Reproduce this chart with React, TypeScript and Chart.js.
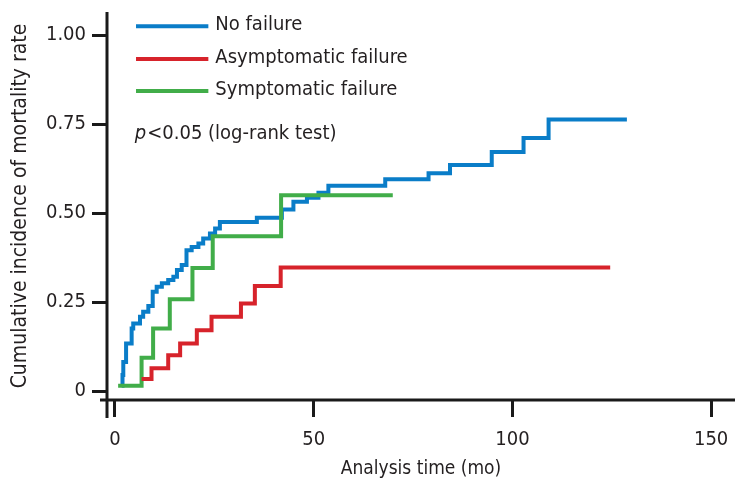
import React, { useEffect, useRef } from "react";
import { Chart, registerables } from "chart.js";

Chart.register(...registerables);

// ---- data ----
const seriesLabels = ["No failure", "Asymptomatic failure", "Symptomatic failure"];
const seriesColors = ["#0a7dc8", "#d7232b", "#41ad49"];

const timesNoFailure = [1.7, 1.9, 2.1, 2.8, 4.2, 4.6, 6.3, 7.1, 8.4, 9.5, 10.5, 11.8, 13.4, 14.7, 15.6, 16.8, 18.0, 19.3, 21.0, 22.2, 23.9, 25.2, 26.4, 35.7, 42.0, 44.9, 48.3, 51.2, 53.7, 68.0, 78.9, 84.3, 94.8, 102.8, 109.1, 128.8];
const valuesNoFailure = [0.015, 0.045, 0.082, 0.134, 0.176, 0.19, 0.209, 0.223, 0.239, 0.279, 0.293, 0.303, 0.312, 0.321, 0.34, 0.354, 0.396, 0.405, 0.415, 0.429, 0.443, 0.457, 0.475, 0.487, 0.51, 0.532, 0.543, 0.557, 0.577, 0.595, 0.612, 0.635, 0.672, 0.711, 0.763, 0.763];

const timesAsymptomatic = [6.7, 9.2, 13.4, 16.4, 20.6, 24.3, 31.7, 35.2, 41.7, 124.6];
const valuesAsymptomatic = [0.034, 0.064, 0.101, 0.134, 0.171, 0.209, 0.246, 0.295, 0.347, 0.347];

const timesSymptomatic = [0.8, 6.7, 9.6, 13.8, 19.5, 24.6, 41.8, 69.9];
const valuesSymptomatic = [0.015, 0.094, 0.176, 0.258, 0.346, 0.435, 0.55, 0.55];

const xTicks = [0, 50, 100, 150];
const yTicks = [0, 0.25, 0.5, 0.75, 1];
const yTickLabels = ["0", "0.25", "0.50", "0.75", "1.00"];
const xTitle = "Analysis time (mo)";
const yTitle = "Cumulative incidence of mortality rate";
const pItalic = "p";
const pRest = "<0.05 (log-rank test)";

const FONT = "'DejaVu Sans Condensed', 'Liberation Sans Narrow', sans-serif";
const TEXT = "#231f20";

function toPoints(xs: number[], ys: number[]) {
  return xs.map((x, i) => ({ x, y: ys[i] }));
}

const overlayPlugin = {
  id: "overlay",
  afterDraw(chart: any) {
    const { ctx, chartArea, scales } = chart;
    const xs = scales.x;
    const ys = scales.y;
    ctx.save();
    // axis lines (Stata-like crossing)
    ctx.strokeStyle = "#1a1a1a";
    ctx.lineWidth = 3;
    ctx.beginPath();
    ctx.moveTo(chartArea.left, chartArea.top);
    ctx.lineTo(chartArea.left, chartArea.bottom + 18);
    ctx.moveTo(chartArea.left - 7, chartArea.bottom);
    ctx.lineTo(chartArea.right, chartArea.bottom);
    ctx.stroke();

    // legend
    const legendX0 = xs.getPixelForValue(5.3);
    const legendX1 = xs.getPixelForValue(23.5);
    const rowVals = [1.025, 0.933, 0.843];
    ctx.font = `20px ${FONT}`;
    ctx.textBaseline = "middle";
    ctx.textAlign = "left";
    seriesLabels.forEach((label, i) => {
      const y = ys.getPixelForValue(rowVals[i]);
      ctx.strokeStyle = seriesColors[i];
      ctx.lineWidth = 4;
      ctx.beginPath();
      ctx.moveTo(legendX0, y);
      ctx.lineTo(legendX1, y);
      ctx.stroke();
      ctx.fillStyle = TEXT;
      ctx.fillText(label, legendX1 + 7, y - 1);
    });

    // p-value note
    const py = ys.getPixelForValue(0.724);
    const px = xs.getPixelForValue(5.0);
    ctx.font = `italic 20px ${FONT}`;
    ctx.fillText(pItalic, px, py);
    const w = ctx.measureText(pItalic).width;
    ctx.font = `20px ${FONT}`;
    ctx.fillText(pRest, px + w + 1, py);
    ctx.restore();
  },
};

export default function App() {
  const canvasRef = useRef<HTMLCanvasElement | null>(null);

  useEffect(() => {
    const canvas = canvasRef.current;
    if (!canvas) return;
    const mk = (i: number, xs: number[], vs: number[]) => ({
      label: seriesLabels[i],
      data: toPoints(xs, vs),
      borderColor: seriesColors[i],
      backgroundColor: seriesColors[i],
      borderWidth: 4,
      pointRadius: 0,
      stepped: "before" as const,
      fill: false,
      tension: 0,
    });
    const chart = new Chart(canvas, {
      type: "line",
      data: {
        datasets: [
          mk(1, timesAsymptomatic, valuesAsymptomatic),
          mk(2, timesSymptomatic, valuesSymptomatic),
          mk(0, timesNoFailure, valuesNoFailure),
        ],
      },
      options: {
        responsive: false,
        animation: false,
        layout: { padding: { top: 12, right: 11, left: 0, bottom: 0 } },
        plugins: { legend: { display: false }, tooltip: { enabled: false } },
        scales: {
          x: {
            type: "linear",
            min: -2,
            max: 156,
            afterBuildTicks: (s: any) => {
              s.ticks = xTicks.map((v) => ({ value: v }));
            },
            afterFit: (s: any) => {
              s.height = 95;
              s.paddingLeft = 0;
              s.paddingRight = 0;
            },
            border: { display: false },
            grid: {
              drawOnChartArea: false,
              drawTicks: true,
              tickLength: 17,
              tickWidth: 3,
              tickColor: "#1a1a1a",
            },
            ticks: {
              color: TEXT,
              font: { family: FONT, size: 20 },
              padding: 11,
              maxRotation: 0,
              autoSkip: false,
            },
            title: {
              display: true,
              text: xTitle,
              color: TEXT,
              font: { family: FONT, size: 19 },
              padding: { top: 0, bottom: 15 },
            },
          },
          y: {
            type: "linear",
            min: -0.025,
            max: 1.065,
            afterBuildTicks: (s: any) => {
              s.ticks = yTicks.map((v) => ({ value: v }));
            },
            afterFit: (s: any) => {
              s.width = 107;
              s.paddingTop = 0;
              s.paddingBottom = 0;
            },
            border: { display: false },
            grid: {
              drawOnChartArea: false,
              drawTicks: true,
              tickLength: 15,
              tickWidth: 3,
              tickColor: "#1a1a1a",
            },
            ticks: {
              color: TEXT,
              font: { family: FONT, size: 20 },
              padding: 6,
              autoSkip: false,
              callback: (v: any) => {
                const idx = yTicks.indexOf(Number(v));
                return idx >= 0 ? yTickLabels[idx] : "";
              },
            },
            title: {
              display: true,
              text: yTitle,
              color: TEXT,
              font: { family: FONT, size: 21 },
              padding: { top: 8, bottom: 0 },
            },
          },
        },
      },
      plugins: [overlayPlugin],
    });
    return () => chart.destroy();
  }, []);

  return (
    <div style={{ position: "fixed", left: 0, top: 0, width: 746, height: 495, background: "#fff" }}>
      <canvas ref={canvasRef} width={746} height={495} style={{ display: "block" }} />
    </div>
  );
}
